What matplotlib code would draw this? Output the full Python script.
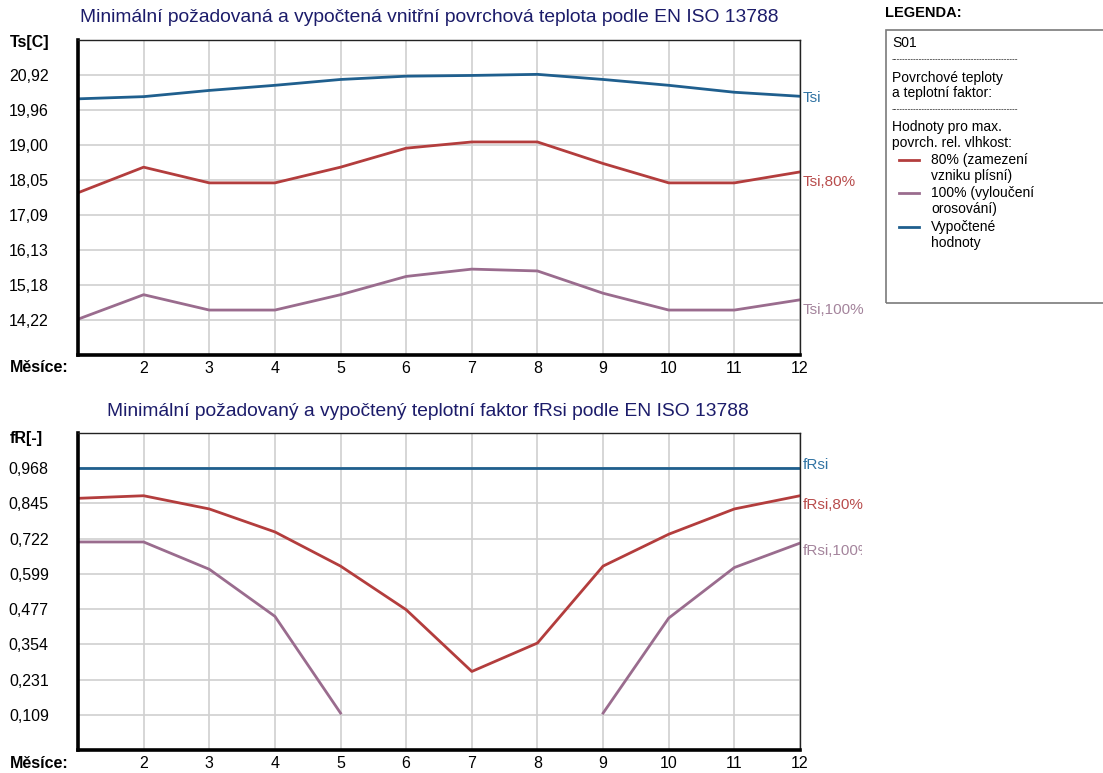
import matplotlib
matplotlib.use('Agg')
import matplotlib.pyplot as plt
import matplotlib.patches as mpatches
from matplotlib.transforms import Bbox
import numpy as np

# months on the x axis
months = np.arange(1, 13)
month_labels = ['', '2', '3', '4', '5', '6', '7', '8', '9', '10', '11', '12']

# surface temperatures [C]
tsi = [20.27, 20.33, 20.50, 20.64, 20.80, 20.89, 20.91, 20.94, 20.80, 20.64, 20.45, 20.34]
tsi_80 = [17.70, 18.40, 17.97, 17.97, 18.40, 18.92, 19.09, 19.09, 18.50, 17.97, 17.97, 18.27]
tsi_100 = [14.24, 14.91, 14.49, 14.49, 14.91, 15.41, 15.61, 15.56, 14.95, 14.49, 14.49, 14.77]
ts_ticks = [14.22, 15.18, 16.13, 17.09, 18.05, 19.00, 19.96, 20.92]
ts_ticklabels = ['14,22', '15,18', '16,13', '17,09', '18,05', '19,00', '19,96', '20,92']

# temperature factor [-]
frsi = [0.968] * 12
frsi_80 = [0.863, 0.872, 0.826, 0.746, 0.627, 0.475, 0.260, 0.359, 0.627, 0.738, 0.826, 0.872]
frsi_100 = [0.711, 0.711, 0.616, 0.452, 0.115, np.nan, np.nan, np.nan, 0.115, 0.446, 0.622, 0.707]
fr_ticks = [0.109, 0.231, 0.354, 0.477, 0.599, 0.722, 0.845, 0.968]
fr_ticklabels = ['0,109', '0,231', '0,354', '0,477', '0,599', '0,722', '0,845', '0,968']

BLUE = '#1f5f8e'
RED = '#b33d3d'
PURPLE = '#9a6c8e'
BLUE_T = '#3173a3'
RED_T = '#b84c4c'
PURPLE_T = '#a4849c'
GRID = '#d0d0d0'
TITLE = '#1c1c6a'
LW = 2.0

FONT = ['Liberation Sans', 'DejaVu Sans']
NARROW = ['Liberation Sans Narrow', 'Liberation Sans', 'DejaVu Sans']
plt.rcParams['font.family'] = FONT

W, H = 1103, 773
fig = plt.figure(figsize=(W / 100, H / 100), dpi=100)


def fx(px):
    return px / W


def fy(py):
    return 1 - py / H


def setup_axes(ax, ylim, ticks, ticklabels):
    ax.set_xlim(1, 12)
    ax.set_ylim(*ylim)
    ax.set_xticks(months)
    ax.set_xticklabels(month_labels, fontsize=11.5)
    ax.set_yticks(ticks)
    ax.set_yticklabels(ticklabels, fontsize=11.5)
    ax.tick_params(axis='y', length=0, pad=21)
    ax.tick_params(axis='x', length=0, pad=4)
    ax.grid(True, color=GRID, lw=1.2)
    ax.set_axisbelow(True)
    for s in ['left', 'bottom']:
        ax.spines[s].set_linewidth(2.6)
        ax.spines[s].set_color('black')
    for s in ['top', 'right']:
        ax.spines[s].set_linewidth(1.0)
        ax.spines[s].set_color('#222222')


def end_label(ax, text, yval, dy, color):
    return ax.annotate(text, (12, yval), xytext=(2, dy), textcoords='offset points',
                       color=color, fontsize=11, va='center', ha='left',
                       annotation_clip=False)


# --- upper chart: surface temperatures
ax1 = fig.add_axes([fx(78), fy(355), fx(800) - fx(78), fy(40) - fy(355)])
setup_axes(ax1, (13.26, 21.88), ts_ticks, ts_ticklabels)
ax1.plot(months, tsi_80, color=RED, lw=LW)
ax1.plot(months, tsi_100, color=PURPLE, lw=LW)
ax1.plot(months, tsi, color=BLUE, lw=LW)
end_label(ax1, 'Tsi', tsi[-1], -1, BLUE_T)
end_label(ax1, 'Tsi,80%', tsi_80[-1], -7, RED_T)
end_label(ax1, 'Tsi,100%', tsi_100[-1], -7, PURPLE_T)

fig.text(fx(429), fy(18), 'Minimální požadovaná a vypočtená vnitřní povrchová teplota podle EN ISO 13788',
         color=TITLE, fontsize=13.9, ha='center', va='center')
fig.text(fx(10), fy(42), 'Ts[C]', fontsize=11.5, weight='bold', ha='left', va='center')
fig.text(fx(10), fy(367), 'Měsíce:', fontsize=11.5, weight='bold', ha='left', va='center')

# --- lower chart: temperature factor
ax2 = fig.add_axes([fx(78), fy(750), fx(800) - fx(78), fy(433) - fy(750)])
setup_axes(ax2, (-0.0135, 1.0905), fr_ticks, fr_ticklabels)
ax2.plot(months, frsi_80, color=RED, lw=LW)
ax2.plot(months, frsi_100, color=PURPLE, lw=LW)
ax2.plot(months, frsi, color=BLUE, lw=LW)
end_label(ax2, 'fRsi', frsi[-1], 2, BLUE_T)
end_label(ax2, 'fRsi,80%', frsi_80[-1], -7, RED_T)
t = end_label(ax2, 'fRsi,100%', frsi_100[-1], -6, PURPLE_T)
t.set_clip_box(Bbox([[0, 0], [862, H]]))
t.set_clip_on(True)

fig.text(fx(428), fy(412), 'Minimální požadovaný a vypočtený teplotní faktor fRsi podle EN ISO 13788',
         color=TITLE, fontsize=13.9, ha='center', va='center')
fig.text(fx(10), fy(438), 'fR[-]', fontsize=11.5, weight='bold', ha='left', va='center')
fig.text(fx(10), fy(764), 'Měsíce:', fontsize=11.5, weight='bold', ha='left', va='center')

# --- legend panel
fig.text(fx(885), fy(13), 'LEGENDA:', fontsize=10.5, weight='bold', ha='left', va='center')
fig.patches.append(mpatches.Rectangle((fx(886), fy(303)), fx(1110) - fx(886), fy(30) - fy(303),
                                      transform=fig.transFigure, fill=False,
                                      ec='#7a7a7a', lw=1.2))

legend_rows = [
    (43, 'S01', None),
    (60, '-' * 46, None),
    (78, 'Povrchové teploty', None),
    (93, 'a teplotní faktor:', None),
    (110, '-' * 46, None),
    (127, 'Hodnoty pro max.', None),
    (143, 'povrch. rel. vlhkost:', None),
    (160, '80% (zamezení', RED),
    (176, 'vzniku plísní)', 'indent'),
    (193, '100% (vyloučení', PURPLE),
    (209, 'orosování)', 'indent'),
    (227, 'Vypočtené', BLUE),
    (243, 'hodnoty', 'indent'),
]
for py, txt, mark in legend_rows:
    if txt.startswith('-'):
        fig.text(fx(892), fy(py), txt, fontsize=6, ha='left', va='center', family=NARROW)
        continue
    x0 = 892 if mark is None else 931
    if mark not in (None, 'indent'):
        fig.lines.append(plt.Line2D([fx(899), fx(919)], [fy(py), fy(py)], color=mark, lw=LW,
                                    transform=fig.transFigure))
    fig.text(fx(x0), fy(py), txt, fontsize=10, ha='left', va='center', family=NARROW)

fig.savefig('out.png', dpi=100)
